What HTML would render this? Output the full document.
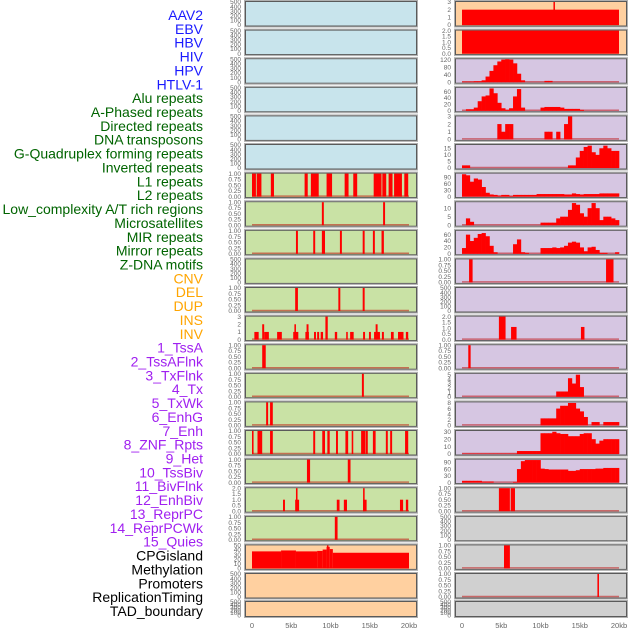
<!DOCTYPE html>
<html><head><meta charset="utf-8">
<style>
html,body{margin:0;padding:0;background:#fff;}
svg{display:block;font-family:"Liberation Sans",sans-serif;}
</style></head>
<body>
<svg id="chart" width="630" height="630" viewBox="0 0 630 630" xmlns="http://www.w3.org/2000/svg">
<g id="labels"></g>
<g id="panels"></g>
<g id="xaxes"></g>
</svg>
<script>
// ---- label data ----
const trackNames = ["AAV2","EBV","HBV","HIV","HPV","HTLV-1","Alu repeats","A-Phased repeats","Directed repeats","DNA transposons","G-Quadruplex forming repeats","Inverted repeats","L1 repeats","L2 repeats","Low_complexity A/T rich regions","Microsatellites","MIR repeats","Mirror repeats","Z-DNA motifs","CNV","DEL","DUP","INS","INV","1_TssA","2_TssAFlnk","3_TxFlnk","4_Tx","5_TxWk","6_EnhG","7_Enh","8_ZNF_Rpts","9_Het","10_TssBiv","11_BivFlnk","12_EnhBiv","13_ReprPC","14_ReprPCWk","15_Quies","CPGisland","Methylation","Promoters","ReplicationTiming","TAD_boundary"];
const labelColors = ["#1a1aff","#1a1aff","#1a1aff","#1a1aff","#1a1aff","#1a1aff","#006400","#006400","#006400","#006400","#006400","#006400","#006400","#006400","#006400","#006400","#006400","#006400","#006400","#ffa500","#ffa500","#ffa500","#ffa500","#ffa500","#a020f0","#a020f0","#a020f0","#a020f0","#a020f0","#a020f0","#a020f0","#a020f0","#a020f0","#a020f0","#a020f0","#a020f0","#a020f0","#a020f0","#a020f0","#000","#000","#000","#000","#000"];

// ---- x axis data ----
const xTickValues = [0,5,10,15,20];
const xTickLabels = ["0","5kb","10kb","15kb","20kb"];

// ---- tick label sets ----
const ticks500 = [0,100,200,300,400,500];
const ticks1 = [0,0.25,0.5,0.75,1];
const ticks1Labels = ["0.00","0.25","0.50","0.75","1.00"];
const ticks2 = [0,0.5,1,1.5,2];
const ticks2Labels = ["0.0","0.5","1.0","1.5","2.0"];

// ---- left column span data [startKb, endKb, value] ----
const aluSpans = [[0,0.5,1],[0.6,1.2,1],[2.4,2.8,1],[6.7,7.1,1],[7.5,8.5,1],[9.5,10.2,1],[11.8,12.3,1],[12.9,13.4,1],[15.5,16.5,1],[16.6,17.1,1],[17.4,17.9,1],[18.1,19.1,1],[19.4,19.9,1]];
const aPhasedSpans = [[8.9,9.15,1],[16.7,16.95,1]];
const directedSpans = [[5.6,5.85,1],[7.8,8.05,1],[8.9,9.3,1],[11.2,11.45,1],[14.1,14.35,1],[15.4,15.65,1],[16.5,16.8,1]];
const g4Spans = [[5.5,5.85,1],[11.0,11.25,1],[14.1,14.35,1]];
const invertedSpans = [[0.3,0.85,1],[1.3,1.55,2],[1.55,2.15,1],[3.2,3.8,1],[5.25,5.9,1],[5.4,5.6,2],[6.8,7.25,1],[6.95,7.2,2],[7.9,8.15,1],[8.3,8.55,1],[8.75,9.05,1],[9.35,9.65,3],[10.55,10.85,1],[12.0,12.2,1],[12.5,12.95,1],[14.15,14.4,1],[14.9,15.15,1],[15.55,16.3,1],[15.75,16.0,2],[16.55,16.8,1],[17.7,18.05,1],[18.6,19.3,1],[19.6,19.9,1]];
const l1Spans = [[1.3,1.75,1]];
const l2Spans = [[14.0,14.25,1]];
const lowCompSpans = [[1.8,2.05,1],[2.3,2.65,1]];
const microSpans = [[0,0.2,1],[0.7,1.3,1],[2.3,2.65,1],[7.8,8.05,1],[8.95,9.3,1],[9.6,9.9,1],[10.7,10.95,1],[11.9,12.25,1],[12.7,12.9,1],[13.9,14.45,1],[14.5,14.75,1],[15.4,15.75,1],[17.05,17.3,1],[17.6,17.85,1],[19.5,19.9,1]];
const mirSpans = [[7.0,7.4,1],[12.2,12.55,1]];
const mirrorSpans = [[3.95,4.2,1],[5.5,6.0,1],[5.6,5.8,2],[10.8,11.15,1],[11.7,12.1,1],[14.15,14.6,1],[14.15,14.35,2],[18.85,19.25,1],[19.6,19.9,1]];
const zdnaSpans = [[10.55,10.9,1]];
const cnvSpans = [[0,3.7,37],[3.7,5.6,39],[5.6,8.3,37],[8.3,9.0,38],[9.0,9.5,41],[9.5,9.9,47],[9.55,9.7,50],[9.9,10.3,42],[10.3,20,34]];

// ---- right column data ----
const insSpans = [[0,20,2],[11.65,11.75,3]];
const invSpans = [[0,20,2]];
const tssABins = [3,3,3,5,5,10,30,60,90,110,120,122,120,100,45,10,0,0,0,0,0,7,7,0,0,0,0,0,0,0,0,0,0,0,0,0,0,0,0,0];
const tssAFlnkBins = [0,5,5,10,30,45,48,70,55,25,8,3,8,45,68,10,0,0,0,0,10,12,12,12,12,10,6,6,6,6,3,0,0,0,0,0,0,0,0,0];
const txFlnkBins = [0,0,0,0,0,0,0,0,0,2,1,2,2,0,0,0,0,0,0,0,0,1,1,0,1,0,2,3,0,0,0,0,0,0,0,0,0,0,0,0];
const txBins = [2,2,0,0,0,0,0,0,0,0,0,0,0,0,0,0,0,0,0,0,0,0,0,0,0,0,0,2,2,8,13,16,17,12,10,15,17,15,13,13];
const txWkBins = [105,100,70,85,80,45,18,10,8,5,8,8,3,8,8,8,8,8,8,12,12,12,12,12,12,12,10,10,15,12,10,12,12,12,12,15,15,15,15,15];
const enhGBins = [0,4,2,0,0,0,0,0,0,0,0,0,0,0,0,0,0,0,0,0,1.5,1.5,1.5,1.5,4,5,5,9,13,12,7,5,10,13,10,3,5,5,4,3];
const enhBins = [18,60,40,50,62,65,55,25,5,0,0,0,0,30,45,5,3,0,0,0,18,18,18,20,18,20,25,35,38,35,20,8,20,22,12,3,3,0,0,5];
const znfSpans = [[0.9,1.35,1],[18.35,19.3,1]];
const tssBivSpans = [[4.7,5.55,2],[6.25,6.95,1.1],[15.15,15.6,1.1]];
const bivFlnkSpans = [[0.8,1.1,1]];
const enhBivBins = [0,0,0,0,0,0,0,0,0,0,0,0,0,0,0,0,0,0,0,0,0,0,0,0,1.2,1.2,1.2,4.2,3,5,2.2,0,0,0,0,0,0,0,0,0];
const reprPCBins = [0,0,0,0,0,0,0,0,0,0,0,0,0,0,0,0,0,0,0,0,2.5,2.5,2.5,2.5,6,7,7,8,8,6,5,3,0,1.2,1.2,0,1.2,1.2,1.2,1.2];
const reprPCWkBins = [0.5,0.5,0.5,0.5,0.5,0.5,0.5,0.5,0.5,0.5,0.5,0.5,0.5,0.5,4,4,4,4,4,4,28,28,28,30,28,27,27,24,24,24,27,28,28,20,14,18,20,20,20,20];
const quiesBins = [8,8,8,8,8,5,5,5,0,0,0,0,0,3,60,95,100,100,100,100,62,60,58,58,58,58,58,52,52,55,60,60,60,60,62,62,65,65,65,65];
const cpgSpans = [[4.7,6.1,1],[6.2,6.75,1]];
const promoterSpans = [[5.35,6.1,1]];
const repTimingSpans = [[17.25,17.45,1]];

const BG = {blue:"#c8e4ec", green:"#c9e2a5", peach:"#ffd0a0", lav:"#d6c6e2", gray:"#d0d0d0"};
const E = null;
// column, row, name, bg, max, tickValues, tickLabels, spans, bins
const panelDefs = [
 [0,0,"aav2","blue",500,ticks500,null,E,E],
 [0,1,"ebv","blue",500,ticks500,null,E,E],
 [0,2,"hbv","blue",500,ticks500,null,E,E],
 [0,3,"hiv","blue",500,ticks500,null,E,E],
 [0,4,"hpv","blue",500,ticks500,null,E,E],
 [0,5,"htlv-1","blue",500,ticks500,null,E,E],
 [0,6,"alu-repeats","green",1,ticks1,ticks1Labels,aluSpans,E],
 [0,7,"a-phased-repeats","green",1,ticks1,ticks1Labels,aPhasedSpans,E],
 [0,8,"directed-repeats","green",1,ticks1,ticks1Labels,directedSpans,E],
 [0,9,"dna-transposons","green",500,ticks500,null,E,E],
 [0,10,"g-quadruplex","green",1,ticks1,ticks1Labels,g4Spans,E],
 [0,11,"inverted-repeats","green",3,[0,1,2,3],null,invertedSpans,E],
 [0,12,"l1-repeats","green",1,ticks1,ticks1Labels,l1Spans,E],
 [0,13,"l2-repeats","green",1,ticks1,ticks1Labels,l2Spans,E],
 [0,14,"low-complexity","green",1,ticks1,ticks1Labels,lowCompSpans,E],
 [0,15,"microsatellites","green",1,ticks1,ticks1Labels,microSpans,E],
 [0,16,"mir-repeats","green",1,ticks1,ticks1Labels,mirSpans,E],
 [0,17,"mirror-repeats","green",2,ticks2,ticks2Labels,mirrorSpans,E],
 [0,18,"z-dna-motifs","green",1,ticks1,ticks1Labels,zdnaSpans,E],
 [0,19,"cnv","peach",50,[0,10,20,30,40,50],null,cnvSpans,E],
 [0,20,"del","peach",500,ticks500,null,E,E],
 [0,21,"dup","peach",500,ticks500,null,E,E],
 [1,0,"ins","peach",3,[0,1,2,3],null,insSpans,E],
 [1,1,"inv","peach",2,ticks2,ticks2Labels,invSpans,E],
 [1,2,"1-tssa","lav",122,[0,40,80,120],null,E,tssABins],
 [1,3,"2-tssaflnk","lav",72,[0,20,40,60],null,E,tssAFlnkBins],
 [1,4,"3-txflnk","lav",3,[0,1,2,3],null,E,txFlnkBins],
 [1,5,"4-tx","lav",17.5,[0,5,10,15],null,E,txBins],
 [1,6,"5-txwk","lav",108,[0,30,60,90],null,E,txWkBins],
 [1,7,"6-enhg","lav",13.5,[0,5,10],null,E,enhGBins],
 [1,8,"7-enh","lav",72,[0,20,40,60],null,E,enhBins],
 [1,9,"8-znf-rpts","lav",1,ticks1,ticks1Labels,znfSpans,E],
 [1,10,"9-het","lav",500,ticks500,null,E,E],
 [1,11,"10-tssbiv","lav",2,ticks2,ticks2Labels,tssBivSpans,E],
 [1,12,"11-bivflnk","lav",1,ticks1,ticks1Labels,bivFlnkSpans,E],
 [1,13,"12-enhbiv","lav",5.2,[0,1,2,3,4,5],null,E,enhBivBins],
 [1,14,"13-reprpc","lav",8.2,[0,2,4,6,8],null,E,reprPCBins],
 [1,15,"14-reprpcwk","lav",31,[0,10,20,30],null,E,reprPCWkBins],
 [1,16,"15-quies","lav",102,[0,30,60,90],null,E,quiesBins],
 [1,17,"cpgisland","gray",1,ticks1,ticks1Labels,cpgSpans,E],
 [1,18,"methylation","gray",500,ticks500,null,E,E],
 [1,19,"promoters","gray",1,ticks1,ticks1Labels,promoterSpans,E],
 [1,20,"replication-timing","gray",1,ticks1,ticks1Labels,repTimingSpans,E],
 [1,21,"tad-boundary","gray",500,ticks500,null,E,E]
];

const NS = "http://www.w3.org/2000/svg";
function mk(tag, attrs, parent){
  const el = document.createElementNS(NS, tag);
  for (const k in attrs) el.setAttribute(k, attrs[k]);
  parent.appendChild(el);
  return el;
}
const labelsG = document.getElementById('labels');
const panelsG = document.getElementById('panels');
const xG = document.getElementById('xaxes');

// labels
trackNames.forEach((n,i)=>{
  const t = mk('text',{x:203,y:20+i*13.86,'text-anchor':'end','font-size':'14',fill:labelColors[i]},labelsG);
  
  
  t.textContent = n;
});

const colX = [245,455];
const colW = 171;
function xScale(col, kb){ return colX[col] + 7 + kb*(157/20); }
function panelGeom(row){
  if (row===21) return {top:601,h:15};
  return {top:1+row*28.6,h:24.5};
}

panelDefs.forEach(d=>{
  const [col,row,name,bg,max,tv,tl,spans,bins] = d;
  const g = panelGeom(row);
  const grp = mk('g',{},panelsG);
  
  
  const rect = mk('rect',{x:colX[col]+0.5,y:g.top+0.5,width:colW,height:g.h,fill:BG[bg],stroke:'#5a5a5a','stroke-width':1},grp);
  
  
  mk('rect',{x:colX[col]-0.5,y:g.top-0.5,width:colW+2,height:g.h+2,fill:'none',stroke:'#b0b0b0','stroke-width':1},grp);
  const y0 = g.top + g.h - 0.5, y1 = g.top + 1;
  const yS = v => y0 - Math.min(v/max,1)*(y0-y1);
  // ticks
  tv.forEach((v,i)=>{
    const t = mk('text',{x:colX[col]-4,y:yS(v)+2.2,'text-anchor':'end','font-size':'6.5',fill:'#666'},grp);
    
    
    t.textContent = tl ? tl[i] : String(v);
  });
  if (spans || bins){
    const base = mk('line',{x1:xScale(col,0),x2:xScale(col,20),y1:y0-0.5,y2:y0-0.5,stroke:'rgba(190,0,0,0.5)','stroke-width':1.5},grp);
    
    
  }
  if (spans){
    spans.forEach(s=>{
      const xa = xScale(col,s[0]), xb = xScale(col,s[1]);
      const r = mk('rect',{x:xa,y:yS(s[2]),width:Math.max(xb-xa,1.5),height:y0-yS(s[2]),fill:'#ff0000'},grp);
      
      
    });
  }
  if (bins){
    bins.forEach((v,i)=>{
      if (!v) return;
      const xa = xScale(col,i*0.5), xb = xScale(col,(i+1)*0.5);
      const r = mk('rect',{x:xa,y:yS(v),width:xb-xa+0.3,height:y0-yS(v),fill:'#ff0000'},grp);
      
      
    });
  }
});

// x axes
[0,1].forEach(col=>{
  xTickValues.forEach((v,i)=>{
    const t = mk('text',{x:xScale(col,v),y:628,'text-anchor':'middle','font-size':'7.5',fill:'#666'},xG);
    
    
    t.textContent = xTickLabels[i];
  });
});
</script>
</body></html>
